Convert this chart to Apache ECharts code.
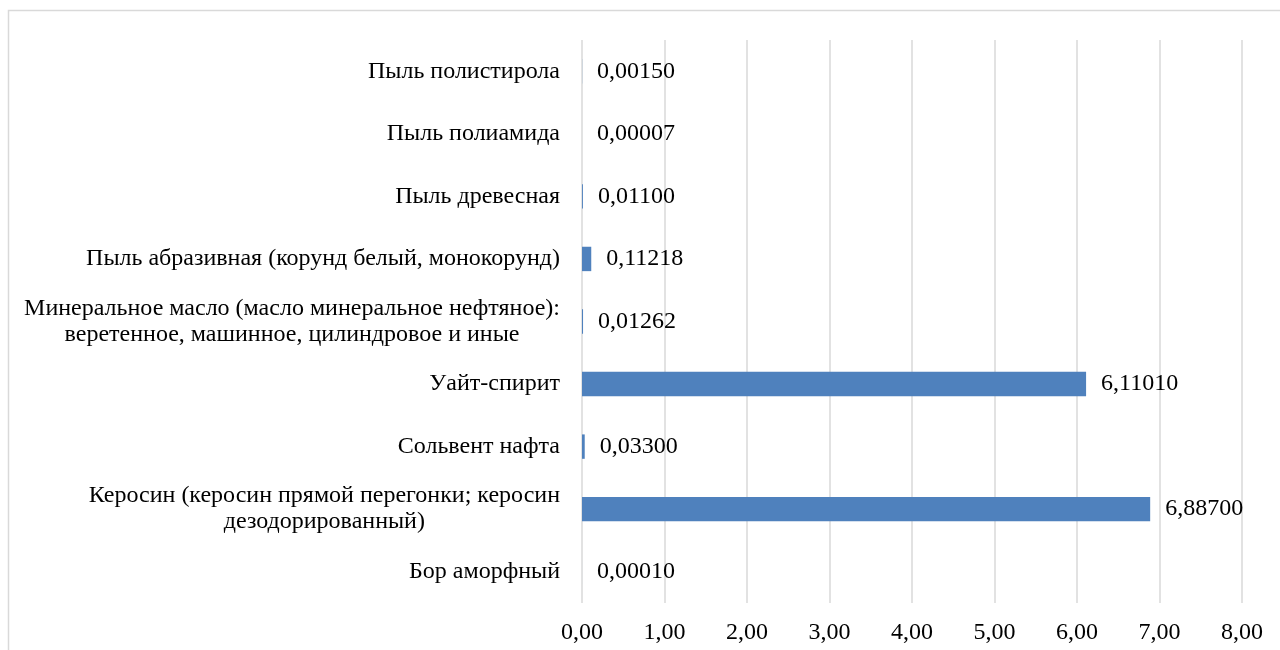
<!DOCTYPE html>
<html>
<head>
<meta charset="utf-8">
<script src="https://cdn.jsdelivr.net/npm/echarts@6/dist/echarts.min.js"></script>
<style>
html,body{margin:0;padding:0;background:#fff;}
#chart{width:1280px;height:650px;}
</style>
</head>
<body>
<div id="chart"></div>
<script>
const categories = [
  'Бор аморфный',
  'Керосин (керосин прямой перегонки; керосин\nдезодорированный)',
  'Сольвент нафта',
  'Уайт-спирит',
  'Минеральное масло (масло минеральное нефтяное):\nверетенное, машинное, цилиндровое и иные',
  'Пыль абразивная (корунд белый, монокорунд)',
  'Пыль древесная',
  'Пыль полиамида',
  'Пыль полистирола'
];
const values = [0.00010, 6.88700, 0.03300, 6.11010, 0.01262, 0.11218, 0.01100, 0.00007, 0.00150];
const xTicks = { min: 0, max: 8, interval: 1 };

const FONT = '"Liberation Serif", "Times New Roman", serif';
const FS = 24;
const chart = echarts.init(document.getElementById('chart'), null, { renderer: 'canvas' });
chart.setOption({
  backgroundColor: '#ffffff',
  animation: false,
  graphic: [{
    type: 'rect',
    shape: { x: 8.5, y: 10.5, width: 1400, height: 800 },
    style: { fill: 'none', stroke: '#d9d9d9', lineWidth: 1.5 },
    silent: true
  }],
  grid: { left: 582, right: 38, top: 40, bottom: 47, containLabel: false },
  xAxis: {
    type: 'value',
    min: xTicks.min, max: xTicks.max, interval: xTicks.interval,
    axisLine: { show: false },
    axisTick: { show: false },
    splitLine: { show: true, lineStyle: { color: '#d9d9d9', width: 1.5 } },
    axisLabel: {
      margin: 18,
      color: '#000',
      fontFamily: FONT,
      fontSize: FS,
      formatter: v => v.toFixed(2).replace('.', ',')
    }
  },
  yAxis: {
    type: 'category',
    data: categories,
    axisLine: { show: false },
    axisTick: { show: false },
    axisLabel: {
      margin: 22,
      color: '#000',
      fontFamily: FONT,
      fontSize: FS,
      lineHeight: 26,
      formatter: v => v.split('\n').map(s => '{c|' + s + '}').join('\n'),
      rich: { c: { align: 'center', color: '#000', fontFamily: FONT, fontSize: FS, lineHeight: 26 } }
    }
  },
  series: [{
    type: 'bar',
    data: values,
    barCategoryGap: '61%',
    itemStyle: { color: '#4f81bd' },
    label: {
      show: true,
      position: 'right',
      distance: 15,
      color: '#000',
      fontFamily: FONT,
      fontSize: FS,
      formatter: p => p.value.toFixed(5).replace('.', ',')
    }
  }]
});
</script>
</body>
</html>
